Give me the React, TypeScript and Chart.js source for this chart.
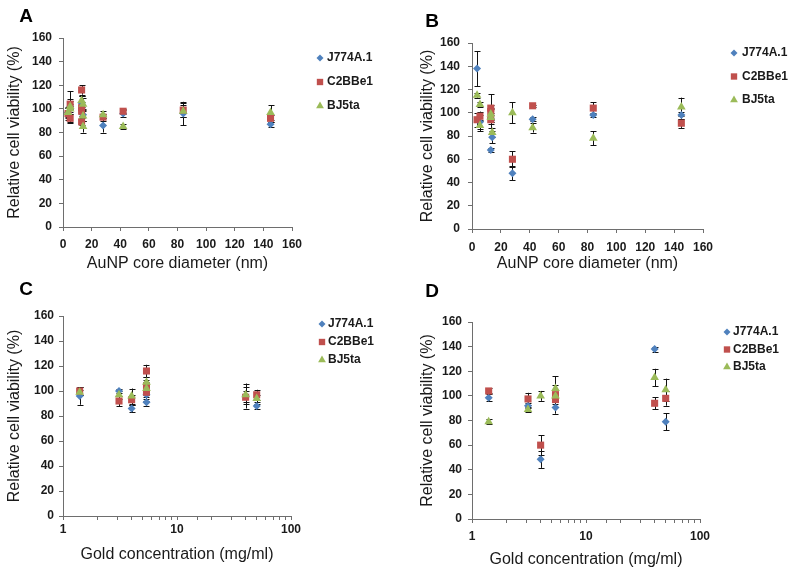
import React, { useEffect, useRef } from 'react';
import { Chart, registerables } from 'chart.js';

Chart.register(...registerables);

// ---------- Series meta ----------
const SERIES_NAMES = ['J774A.1', 'C2BBe1', 'BJ5ta'];
const SERIES_COLORS = ['#4F81BD', '#C0504D', '#9BBB59'];
const SERIES_SHAPES = ['rectRot', 'rect', 'triangle'];
const SERIES_RADII = [4, 5, 5];

const Y_MIN = 0;
const Y_MAX = 160;
const Y_STEP = 20;
const LIN_X_MIN = 0;
const LIN_X_MAX = 160;
const LIN_X_STEP = 20;
const LOG_X_MIN = 1;
const LOG_X_MAX = 100;

const Y_TITLE = 'Relative cell viability (%)';
const X_TITLE_SIZE = 'AuNP core diameter (nm)';
const X_TITLE_CONC = 'Gold concentration (mg/ml)';

// ---------- Panel A (core diameter) ----------
const A_J774_X = [3.5, 5, 13, 14, 28, 42, 84, 145];
const A_J774_Y = [97, 102, 105, 95, 86, 96, 96, 87];
const A_J774_E = [5, 13, 6, 5, 6, 3, 10, 2];
const A_C2_X = [3.5, 5, 5, 13, 13, 13, 13, 28, 42, 84, 145];
const A_C2_Y = [96, 104, 92, 116, 101, 98, 89, 93, 98, 99, 92];
const A_C2_E = [5, 4, 4, 4, 5, 4, 3, 3, 2, 6, 3];
const A_BJ_X = [3.5, 5, 5, 13, 14, 14, 14, 28, 42, 84, 145];
const A_BJ_Y = [97, 100, 102, 107, 104, 94, 85, 95, 85, 98, 97];
const A_BJ_E = [4, 4, 5, 4, 5, 4, 5, 3, 2, 5, 6];

// ---------- Panel B (core diameter) ----------
const B_J774_X = [3.5, 5.5, 13, 13, 14, 28, 42, 84, 145];
const B_J774_Y = [138, 92, 95, 68, 79, 48, 94.5, 98, 98];
const B_J774_E = [15, 6, 8, 2, 5, 6, 2, 2, 3];
const B_C2_X = [3.5, 5.5, 13, 13, 13, 28, 42, 84, 145];
const B_C2_Y = [94, 97, 104, 101, 94, 60, 106, 104, 91];
const B_C2_E = [6, 4, 12, 6, 4, 7, 1, 5, 4];
const B_BJ_X = [3.5, 5.5, 5.5, 13, 13, 14, 28, 42, 84, 145];
const B_BJ_Y = [115, 107, 89, 99, 96, 83, 100, 87, 78, 105];
const B_BJ_E = [2, 2, 5, 5, 4, 4, 9, 4, 6, 8];

// ---------- Panel C (gold concentration) ----------
const C_J774_X = [1.4, 3.1, 4, 5.4, 5.4, 40, 50];
const C_J774_Y = [96, 100, 86, 97, 91, 96, 88];
const C_J774_E = [7, 2, 3, 5, 3, 10, 2];
const C_C2_X = [1.4, 3.1, 4, 5.4, 5.4, 5.4, 40, 50];
const C_C2_Y = [100, 92, 93, 116, 104, 99, 95, 97];
const C_C2_E = [3, 4, 4, 5, 5, 4, 5, 4];
const C_BJ_X = [1.4, 3.1, 4, 5.4, 5.4, 40, 50];
const C_BJ_Y = [99, 97, 96, 107, 102, 97, 94];
const C_BJ_E = [2, 3, 6, 4, 5, 6, 3];

// ---------- Panel D (gold concentration) ----------
const D_J774_X = [1.4, 3.1, 4, 5.4, 40, 50];
const D_J774_Y = [98.5, 92, 48.5, 90.5, 138, 79];
const D_J774_E = [3, 2, 7, 5, 2, 7];
const D_C2_X = [1.4, 3.1, 4, 5.4, 5.4, 40, 50];
const D_C2_Y = [104, 97.5, 60, 101, 97, 94, 98];
const D_C2_E = [2, 5, 8, 8, 6, 5, 6];
const D_BJ_X = [1.4, 3.1, 4, 5.4, 5.4, 40, 50];
const D_BJ_Y = [79, 89, 100, 106, 100, 115, 105];
const D_BJ_E = [2, 2, 4, 10, 5, 7, 9];

const FONT = 'Arial, "Liberation Sans", Helvetica, sans-serif';
const AXIS_COLOR = '#6e6e6e';
const TEXT_COLOR = '#1a1a1a';

type Layout = {
  label: string;
  left: number; top: number; w: number; h: number;
  padTop: number; padRight: number; yW: number; xH: number;
  yTitlePad: number; xTitlePad: number; yTickPad: number; xTickPad: number;
  legX: number; legTextX: number; legY: number; legGap: number;
  labX: number; labY: number;
};

const LAYOUTS: Layout[] = [
  { label: 'A', left: 0, top: 0, w: 400, h: 284, padTop: 38, padRight: 108, yW: 63, xH: 57,
    yTitlePad: 5.4, xTitlePad: 10.4, yTickPad: 7, xTickPad: 6,
    legX: 320, legTextX: 327, legY: 58, legGap: 24, labX: 26, labY: 17 },
  { label: 'B', left: 400, top: 0, w: 400, h: 284, padTop: 43, padRight: 97, yW: 72, xH: 55,
    yTitlePad: 18.4, xTitlePad: 10.4, yTickPad: 8, xTickPad: 7,
    legX: 334, legTextX: 342, legY: 53, legGap: 23.5, labX: 32, labY: 22 },
  { label: 'C', left: 0, top: 270, w: 400, h: 298, padTop: 46, padRight: 109, yW: 63, xH: 52,
    yTitlePad: 5.4, xTitlePad: 3.4, yTickPad: 5, xTickPad: 2,
    legX: 322, legTextX: 328, legY: 54, legGap: 18, labX: 26, labY: 20 },
  { label: 'D', left: 400, top: 270, w: 400, h: 298, padTop: 52, padRight: 100, yW: 72, xH: 49,
    yTitlePad: 18.4, xTitlePad: -1.6, yTickPad: 6, xTickPad: 6,
    legX: 327, legTextX: 333, legY: 62, legGap: 17.5, labX: 32, labY: 22 },
];

function makeDatasets(xs: number[][], ys: number[][], es: number[][]) {
  return xs.map((xArr, s) => ({
    label: SERIES_NAMES[s],
    data: xArr.map((x, i) => ({ x, y: ys[s][i] })),
    errors: es[s],
    backgroundColor: SERIES_COLORS[s],
    borderColor: SERIES_COLORS[s],
    borderWidth: 0,
    pointStyle: SERIES_SHAPES[s],
    pointRadius: SERIES_RADII[s],
    showLine: false,
    order: 3 - s,
  }));
}

const PANEL_DATA = [
  { log: false, title: X_TITLE_SIZE, ds: () => makeDatasets([A_J774_X, A_C2_X, A_BJ_X], [A_J774_Y, A_C2_Y, A_BJ_Y], [A_J774_E, A_C2_E, A_BJ_E]) },
  { log: false, title: X_TITLE_SIZE, ds: () => makeDatasets([B_J774_X, B_C2_X, B_BJ_X], [B_J774_Y, B_C2_Y, B_BJ_Y], [B_J774_E, B_C2_E, B_BJ_E]) },
  { log: true, title: X_TITLE_CONC, ds: () => makeDatasets([C_J774_X, C_C2_X, C_BJ_X], [C_J774_Y, C_C2_Y, C_BJ_Y], [C_J774_E, C_C2_E, C_BJ_E]) },
  { log: true, title: X_TITLE_CONC, ds: () => makeDatasets([D_J774_X, D_C2_X, D_BJ_X], [D_J774_Y, D_C2_Y, D_BJ_Y], [D_J774_E, D_C2_E, D_BJ_E]) },
];

const errorBarPlugin = {
  id: 'errorBars',
  beforeDatasetsDraw(chart: any) {
    const ctx = chart.ctx;
    const yScale = chart.scales.y;
    ctx.save();
    ctx.strokeStyle = '#111';
    ctx.lineWidth = 1;
    chart.data.datasets.forEach((ds: any, i: number) => {
      const meta = chart.getDatasetMeta(i);
      meta.data.forEach((pt: any, j: number) => {
        const v = ds.data[j].y;
        const e = ds.errors[j];
        const x = Math.round(pt.x) + 0.5;
        const y1 = yScale.getPixelForValue(v + e);
        const y2 = yScale.getPixelForValue(v - e);
        ctx.beginPath();
        ctx.moveTo(x, y1); ctx.lineTo(x, y2);
        ctx.moveTo(x - 3, Math.round(y1) + 0.5); ctx.lineTo(x + 3, Math.round(y1) + 0.5);
        ctx.moveTo(x - 3, Math.round(y2) + 0.5); ctx.lineTo(x + 3, Math.round(y2) + 0.5);
        ctx.stroke();
      });
    });
    ctx.restore();
  },
};

function drawMarker(ctx: CanvasRenderingContext2D, shape: string, x: number, y: number, r: number) {
  ctx.beginPath();
  if (shape === 'rect') {
    const s = Math.SQRT1_2 * r;
    ctx.rect(x - s, y - s, 2 * s, 2 * s);
  } else if (shape === 'rectRot') {
    ctx.moveTo(x - r, y); ctx.lineTo(x, y - r); ctx.lineTo(x + r, y); ctx.lineTo(x, y + r);
    ctx.closePath();
  } else {
    ctx.moveTo(x, y - r);
    ctx.lineTo(x + r * Math.sin(2 * Math.PI / 3), y - r * Math.cos(2 * Math.PI / 3));
    ctx.lineTo(x + r * Math.sin(4 * Math.PI / 3), y - r * Math.cos(4 * Math.PI / 3));
    ctx.closePath();
  }
  ctx.fill();
}

const sideLegendPlugin = {
  id: 'sideLegend',
  afterDraw(chart: any, _args: any, opts: any) {
    const ctx = chart.ctx;
    ctx.save();
    ctx.font = `bold 12px ${FONT}`;
    ctx.textBaseline = 'middle';
    ctx.textAlign = 'left';
    chart.data.datasets.forEach((ds: any, i: number) => {
      const y = opts.y + i * opts.gap;
      ctx.fillStyle = ds.backgroundColor;
      drawMarker(ctx, ds.pointStyle, opts.x, y, ds.pointRadius - 0.5);
      ctx.fillStyle = TEXT_COLOR;
      ctx.fillText(ds.label, opts.textX, y);
    });
    ctx.restore();
  },
};

const panelLabelPlugin = {
  id: 'panelLabel',
  afterDraw(chart: any, _args: any, opts: any) {
    const ctx = chart.ctx;
    ctx.save();
    ctx.font = `bold 19px ${FONT}`;
    ctx.textBaseline = 'middle';
    ctx.textAlign = 'center';
    ctx.fillStyle = '#000';
    ctx.fillText(opts.text, opts.x, opts.y);
    ctx.restore();
  },
};

function Panel({ idx }: { idx: number }) {
  const ref = useRef<HTMLCanvasElement | null>(null);
  const L = LAYOUTS[idx];
  const P = PANEL_DATA[idx];
  useEffect(() => {
    if (!ref.current) return;
    const grid = { display: true, drawOnChartArea: false, drawTicks: true, tickLength: 4, color: AXIS_COLOR };
    const border = { display: true, color: AXIS_COLOR, width: 1 };
    const xScale: any = P.log
      ? {
          type: 'logarithmic', min: LOG_X_MIN, max: LOG_X_MAX,
          ticks: {
            autoSkip: false, maxRotation: 0, padding: L.xTickPad, color: TEXT_COLOR,
            font: { family: FONT, size: 12, weight: 'bold' },
            callback: (v: number) => {
              const l = Math.log10(v);
              return Math.abs(l - Math.round(l)) < 1e-9 ? String(v) : '';
            },
          },
        }
      : {
          type: 'linear', min: LIN_X_MIN, max: LIN_X_MAX,
          ticks: {
            stepSize: LIN_X_STEP, autoSkip: false, maxRotation: 0, padding: L.xTickPad, color: TEXT_COLOR,
            font: { family: FONT, size: 12, weight: 'bold' },
          },
        };
    xScale.grid = grid;
    xScale.border = border;
    xScale.title = {
      display: true, text: P.title, color: TEXT_COLOR,
      font: { family: FONT, size: 16, weight: 'normal' },
      padding: { top: 0, bottom: L.xTitlePad },
    };
    xScale.afterFit = (s: any) => { s.height = L.xH; };

    const chart = new Chart(ref.current, {
      type: 'scatter',
      data: { datasets: P.ds() as any },
      options: {
        responsive: false,
        animation: false,
        devicePixelRatio: 1,
        layout: { padding: { left: 0, top: L.padTop, right: L.padRight, bottom: 0 } },
        plugins: {
          legend: { display: false },
          tooltip: { enabled: false },
          sideLegend: { x: L.legX, textX: L.legTextX, y: L.legY, gap: L.legGap },
          panelLabel: { text: L.label, x: L.labX, y: L.labY },
        } as any,
        scales: {
          x: xScale,
          y: {
            type: 'linear', min: Y_MIN, max: Y_MAX,
            grid, border,
            ticks: {
              stepSize: Y_STEP, autoSkip: false, padding: L.yTickPad, color: TEXT_COLOR,
              font: { family: FONT, size: 12, weight: 'bold' },
            },
            title: {
              display: true, text: Y_TITLE, color: TEXT_COLOR,
              font: { family: FONT, size: 16, weight: 'normal' },
              padding: { top: L.yTitlePad, bottom: 0 },
            },
            afterFit: (s: any) => { s.width = L.yW; },
          } as any,
        },
      },
      plugins: [errorBarPlugin, sideLegendPlugin, panelLabelPlugin],
    });
    return () => chart.destroy();
  }, []);
  return (
    <canvas
      ref={ref}
      width={L.w}
      height={L.h}
      style={{ position: 'absolute', left: L.left, top: L.top, width: L.w, height: L.h, display: 'block' }}
    />
  );
}

export default function App() {
  return (
    <div style={{ position: 'absolute', left: 0, top: 0, width: 800, height: 568, background: '#fff', overflow: 'hidden' }}>
      {LAYOUTS.map((_, i) => <Panel key={i} idx={i} />)}
    </div>
  );
}
